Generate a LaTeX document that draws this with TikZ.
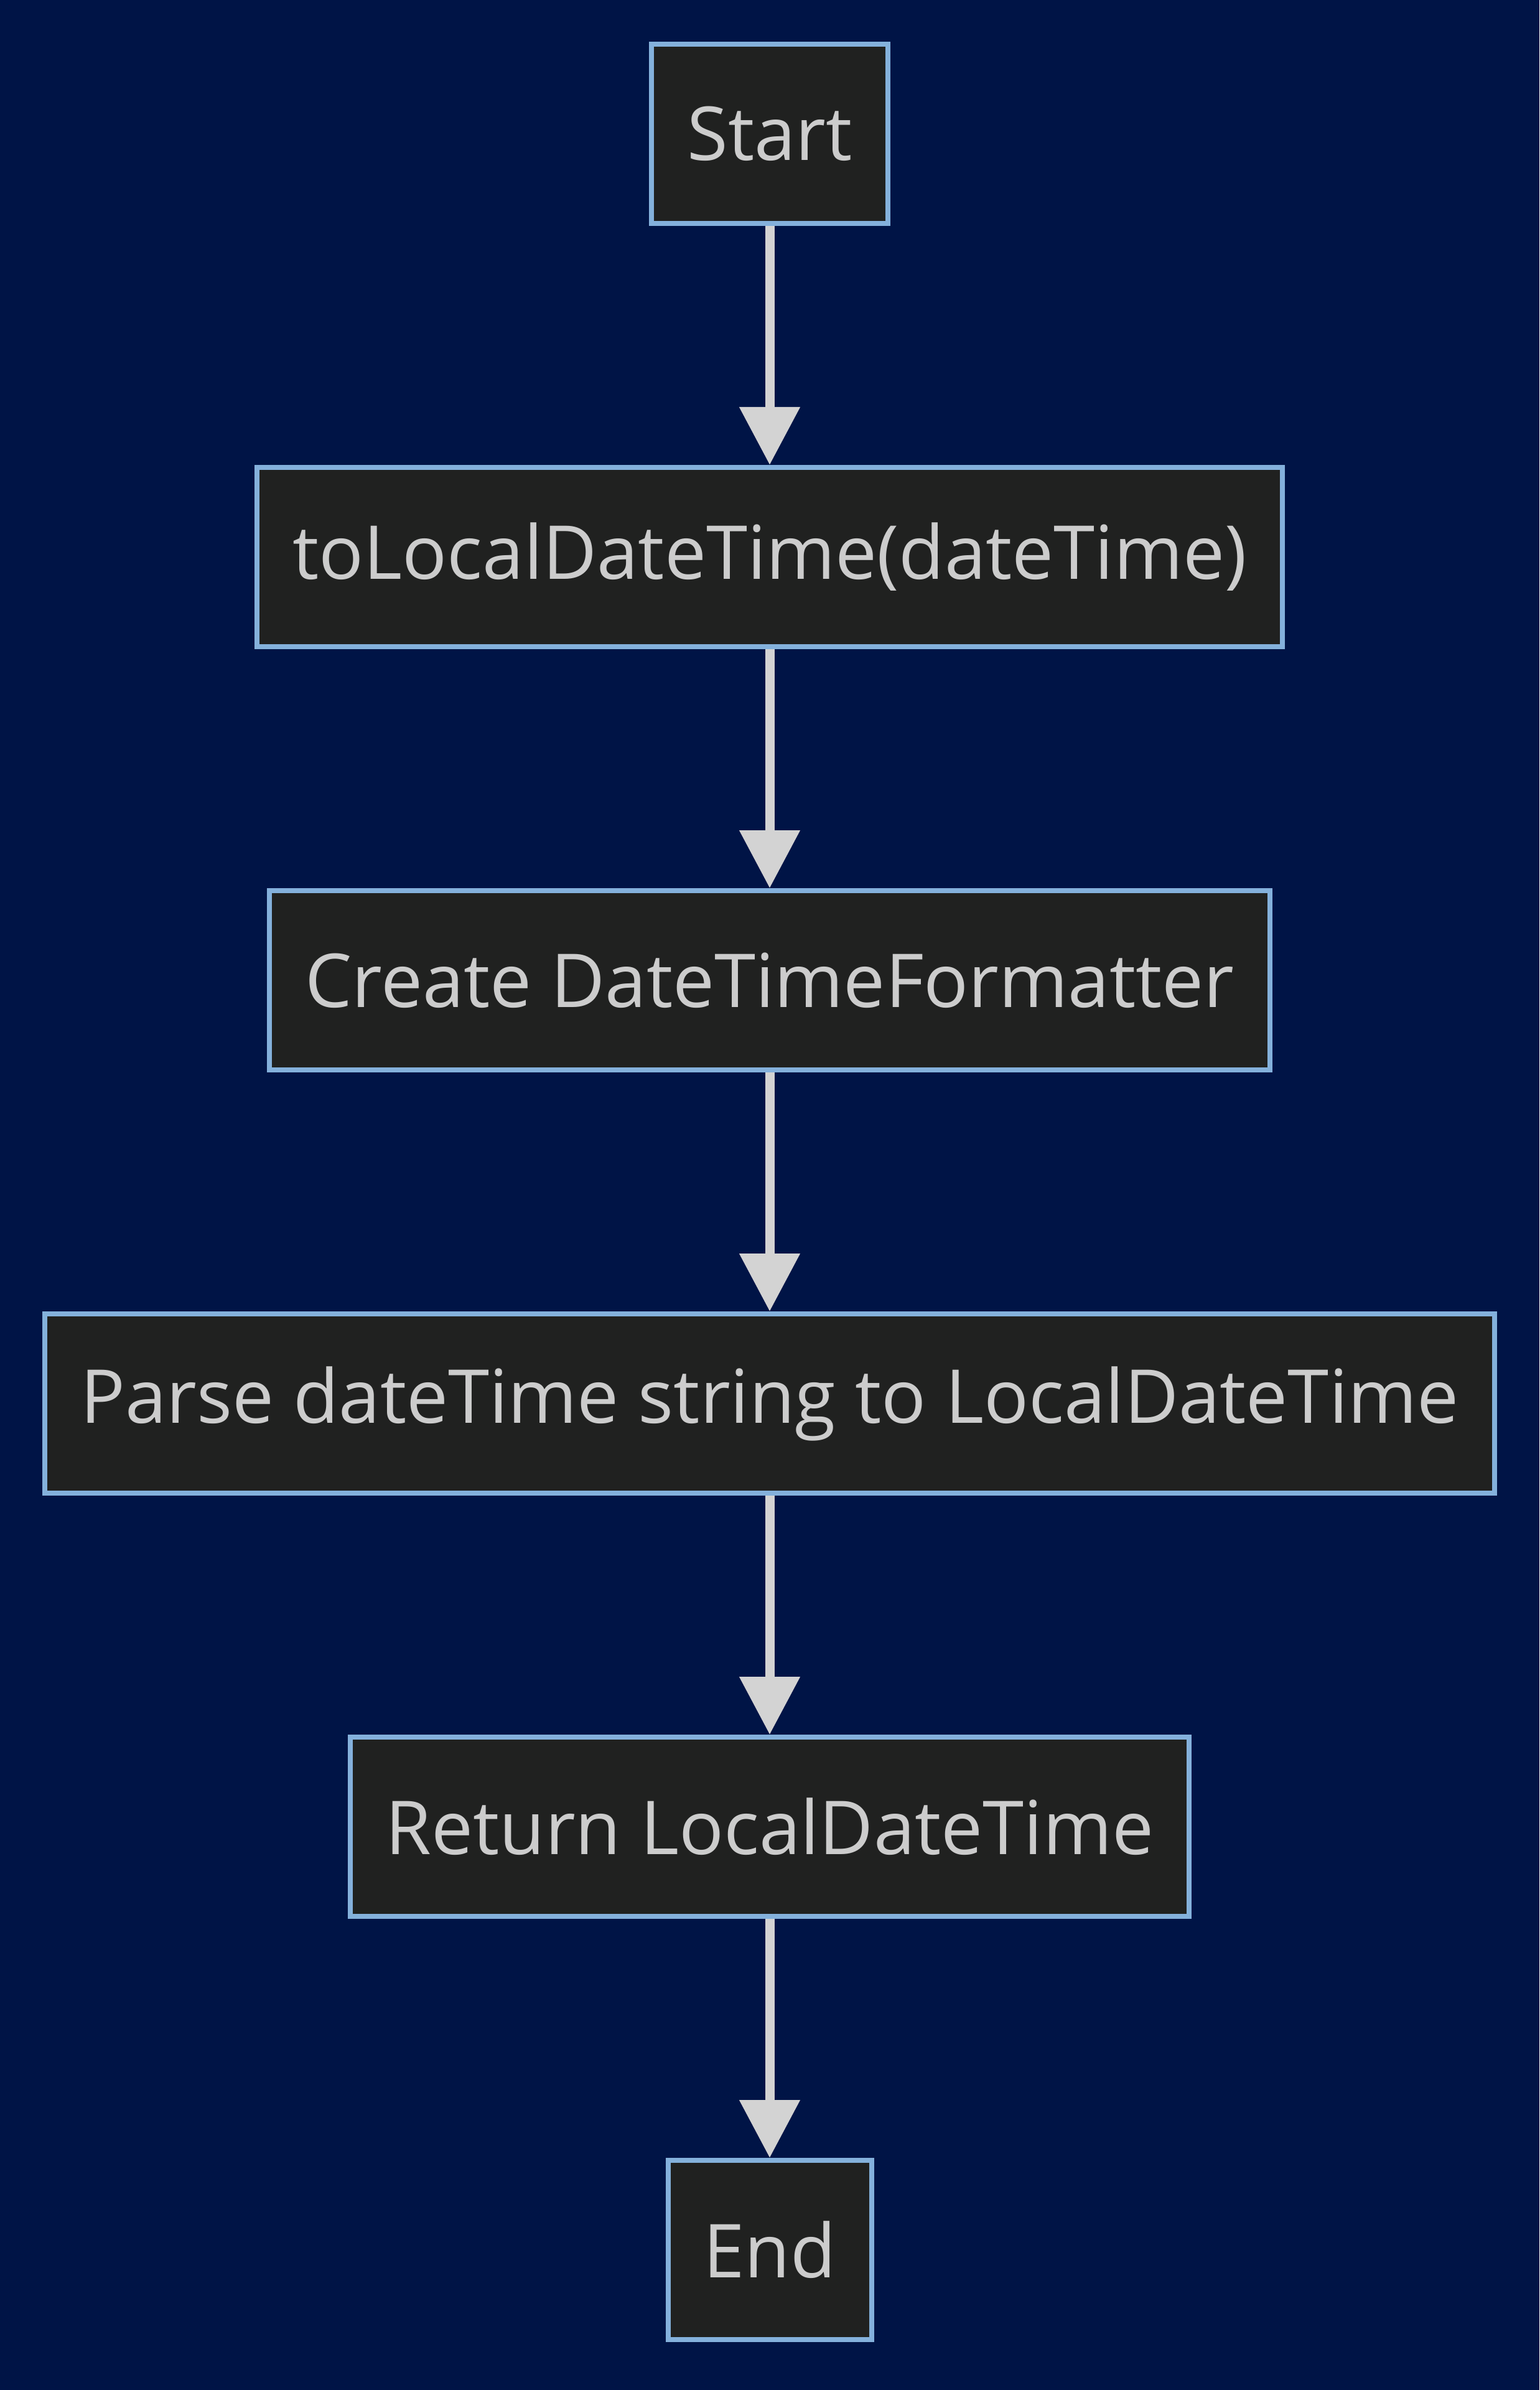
\documentclass[tikz,border=0pt]{standalone}
\usepackage{fontspec}
\setmainfont{Open Sans}
\usepackage{tikz}
\usetikzlibrary{arrows.meta,positioning}
\definecolor{bgnavy}{HTML}{001446}
\definecolor{boxfill}{HTML}{202120}
\definecolor{boxedge}{HTML}{84B1DC}
\definecolor{ink}{HTML}{CCCCCC}
\definecolor{flow}{HTML}{D3D3D3}

\tikzset{
  stepbox/.style={draw=boxedge,fill=boxfill,line width=0.08cm,text=ink,
    font=\fontsize{34}{40}\selectfont,minimum height=2.88cm,inner xsep=0.57cm},
  flowarrow/.style={draw=flow,line width=0.15cm,-{Triangle[width=0.94cm,length=0.93cm]}}
}

\begin{document}
\begin{tikzpicture}
  \fill[bgnavy] (0,0) rectangle (24.74,-38.40);
  \useasboundingbox (0,0) rectangle (24.74,-38.40);
  % steps of the flow
  \node[stepbox] (start) at (12.37,-2.15) {Start};
  \node[stepbox] (convert) at (12.37,-8.95) {toLocalDateTime(dateTime)};
  \node[stepbox] (formatter) at (12.37,-15.75) {Create DateTimeFormatter};
  \node[stepbox] (parse) at (12.37,-22.55) {Parse dateTime string to LocalDateTime};
  \node[stepbox] (return) at (12.37,-29.35) {Return LocalDateTime};
  \node[stepbox] (finish) at (12.37,-36.15) {End};
  % connectors
  \draw[flowarrow] (start) -- (convert);
  \draw[flowarrow] (convert) -- (formatter);
  \draw[flowarrow] (formatter) -- (parse);
  \draw[flowarrow] (parse) -- (return);
  \draw[flowarrow] (return) -- (finish);
\end{tikzpicture}
\end{document}
